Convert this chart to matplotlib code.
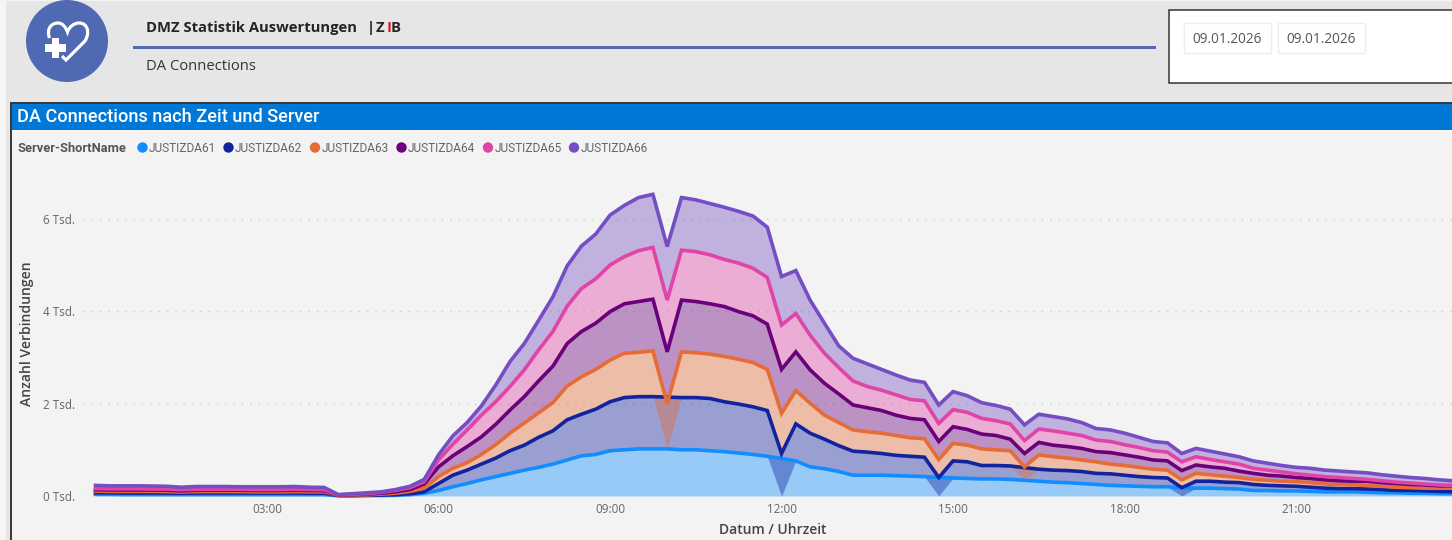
import numpy as np
import matplotlib
matplotlib.use("Agg")
import matplotlib.pyplot as plt
from matplotlib.patches import Rectangle, Circle, PathPatch
from matplotlib.path import Path

N = None
# stacked upper edge of every server (thousands), one value per 15 minutes from 00:00.
# None = server has no reading at that time.
server_names = ["JUSTIZDA61", "JUSTIZDA62", "JUSTIZDA63", "JUSTIZDA64", "JUSTIZDA65", "JUSTIZDA66"]
top_61 = [.035,.035,.03,.03,.03,.03,.03,.03,.03,.03,.03,.03,.03,.03,.03,.03,.03,.005,.005,.01,.01,.015,.03,.06,
          .12,.20,.27,.35,.42,.49,.56,.62,.69,.78,.87,.90,.98,1.00,1.02,1.02,1.02,1.00,1.00,.98,.96,.93,.90,.86,
          N,.76,.63,.59,.53,.45,.45,.45,.44,.43,.42,N,.39,.38,.37,.37,.36,.34,.32,.30,.29,.27,.25,.23,
          .22,.21,.20,.20,N,.17,.17,.16,.15,.12,.12,.11,.11,.10,.09,.09,.09,.08,.07,.07,.06,.06,.05,.05]
top_62 = [.07,.07,.065,.065,.065,.065,.06,.065,.065,.065,.065,.065,.065,.065,.065,.06,.06,.01,.01,.015,.02,.03,.05,.09,
          .27,.45,.56,.69,.82,.98,1.10,1.27,1.41,1.65,1.77,1.88,2.04,2.13,2.15,2.15,N,2.13,2.13,2.11,2.04,1.99,1.93,1.85,
          .92,1.56,1.36,1.23,1.09,.97,.95,.92,.88,.86,.84,.40,.76,.74,.66,.66,.65,N,.58,.56,.55,.53,.49,.48,
          .45,.42,.40,.39,.18,.32,.32,.30,.29,.25,.23,.22,.21,.19,.17,.16,.16,.15,.14,.12,.12,.11,.10,.09]
top_63 = [.105,.10,.10,.10,.10,.095,.085,.095,.095,.095,.095,.09,.09,.09,.095,.09,.09,.015,.02,.025,.04,.06,.10,.17,
          .42,.60,.72,.90,1.11,1.36,1.58,1.80,2.02,2.38,2.58,2.74,2.94,3.09,3.11,3.14,2.00,3.12,3.10,3.07,3.02,2.96,2.89,2.74,
          1.79,2.28,2.01,1.75,1.59,1.43,1.39,1.36,1.31,1.26,1.24,.79,1.14,1.10,1.02,1.00,.98,.63,.89,.85,.82,.78,.74,.69,
          .66,.62,.58,.56,.35,.49,.46,.43,.40,.36,.34,.32,.31,.29,.26,.25,.24,.23,.21,.19,.18,.17,.17,.17]
top_64 = [.135,.13,.13,.13,.13,.125,.11,.125,.125,.125,.125,.12,.12,.12,.125,.12,.115,.02,.03,.04,.06,.09,.14,.26,
          .63,.87,1.07,1.28,1.55,1.86,2.15,2.49,2.81,3.30,3.56,3.74,3.99,4.16,4.21,4.26,3.12,4.24,4.21,4.16,4.10,3.99,3.90,3.72,
          2.74,3.12,2.73,2.44,2.21,1.97,1.91,1.85,1.75,1.68,1.65,1.18,1.50,1.44,1.34,1.31,1.23,.92,1.16,1.10,1.07,1.03,.96,.94,
          .89,.84,.78,.76,.55,.67,.63,.60,.54,.49,.45,.43,.40,.38,.35,.33,.32,.32,.29,.27,.25,.24,.22,.22]
top_65 = [.16,.155,.155,.155,.15,.15,.135,.145,.145,.145,.145,.14,.14,.14,.145,.14,.135,.025,.04,.05,.08,.12,.18,.31,
          .78,1.12,1.43,1.75,2.04,2.37,2.73,3.16,3.56,4.11,4.49,4.70,5.00,5.18,5.31,5.38,4.24,5.32,5.29,5.22,5.12,5.04,4.93,4.73,
          3.70,3.95,3.48,3.09,2.78,2.49,2.37,2.29,2.19,2.09,2.06,1.57,1.87,1.81,1.68,1.63,1.56,1.20,1.45,1.41,1.36,1.31,1.21,1.18,
          1.11,1.05,.98,.95,.74,.85,.79,.74,.69,.60,.56,.52,.48,.45,.42,.40,.38,.36,.33,.30,.28,.26,.24,.23]
top_66 = [.23,.22,.22,.22,.215,.21,.19,.205,.205,.205,.20,.20,.20,.20,.205,.19,.185,.03,.05,.07,.09,.14,.21,.36,
          .89,1.30,1.59,1.95,2.40,2.91,3.30,3.80,4.31,4.98,5.41,5.67,6.08,6.29,6.46,6.53,5.40,6.46,6.41,6.33,6.25,6.16,6.06,5.82,
          4.75,4.88,4.24,3.74,3.25,2.98,2.86,2.74,2.62,2.51,2.46,1.97,2.26,2.17,2.02,1.96,1.88,1.54,1.77,1.72,1.67,1.59,1.46,1.43,
          1.36,1.27,1.18,1.15,.92,1.03,.97,.91,.85,.76,.71,.66,.62,.60,.56,.54,.52,.50,.46,.43,.40,.38,.35,.33]
quarter_step = 0.25
x_ticks = [3, 6, 9, 12, 15, 18, 21]
x_labels = ["03:00", "06:00", "09:00", "12:00", "15:00", "18:00", "21:00"]
y_ticks = [0, 2, 4, 6]
y_labels = ["0 Tsd.", "2 Tsd.", "4 Tsd.", "6 Tsd."]
colors = ["#118DFF", "#12239E", "#E66C37", "#6B007B", "#E044A7", "#744EC2"]

W, H = 1452, 540
fig = plt.figure(figsize=(W / 100, H / 100), dpi=100, facecolor="#f2f2f2")
plt.rcParams["font.family"] = ["Open Sans", "DejaVu Sans"]
narrow = ["Liberation Sans Narrow", "Roboto", "DejaVu Sans"]

# page chrome, in pixel coordinates
bg = fig.add_axes([0, 0, 1, 1], zorder=0)
bg.set_xlim(0, W); bg.set_ylim(H, 0); bg.axis("off")
def rect(x0, y0, x1, y1, fc, ec="none", lw=0, z=1):
    bg.add_patch(Rectangle((x0, y0), x1 - x0, y1 - y0, fc=fc, ec=ec, lw=lw, zorder=z))
rect(0, 0, W, H, "#f5f5f5")
rect(6, 1, W, 102, "#e6e6e6")
rect(6, 102, 11, H, "#e6e6e6")
rect(11, 130, W, H, "#f3f3f3")
rect(10, 102, W, 103.5, "#3a3a3a", z=3)
rect(10, 102, 11.5, H, "#3a3a3a", z=3)
rect(11, 103, W, 130, "#0078D7", z=2)
# logo
bg.add_patch(Circle((67, 41), 41, fc="#4F69B3", ec="none", zorder=2))
C = Path.CURVE4
heart = Path([(49.5, 38), (46, 28), (52, 23), (58, 23), (63, 23), (66, 28), (67.5, 32),
              (69, 27), (74, 23), (79, 23), (88, 23), (90, 33), (85, 41), (66, 60), (62, 56)],
             [Path.MOVETO, C, C, C, C, C, C, C, C, C, C, C, C, Path.LINETO, Path.LINETO])
bg.add_patch(PathPatch(heart, fc="none", ec="white", lw=2.3, zorder=3))
rect(51.7, 38, 59.3, 58, "white", z=3)
rect(45, 43.5, 66, 52, "white", z=3)
# header
rect(133, 45.5, 1156, 48.5, "#4F69B3", z=2)
bold = dict(fontsize=10.65, fontweight="bold", color="#252423", va="center", ha="left", zorder=4)
bg.text(146, 28, "DMZ Statistik Auswertungen", **bold)
bg.text(367, 28, "|", **bold)
bg.text(376, 28, "Z", **bold)
bg.text(386.5, 28, "I", **{**bold, "color": "#E81123"})
bg.text(391, 28, "B", **bold)
bg.text(146, 67, "DA Connections", fontsize=10.6, color="#333333", va="center", ha="left", zorder=4)
# date filter
rect(1168.5, 9.5, W + 3, 83, "white", ec="#333333", lw=1.1, z=2)
for x0 in (1184, 1278):
    rect(x0, 22.5, x0 + 87, 52.5, "white", ec="#eeeeee", lw=1, z=3)
    bg.text(x0 + 43.5, 39.5, "09.01.2026", fontsize=9.8, color="#555555", ha="center", va="center", zorder=4)
bg.text(17, 116.5, "DA Connections nach Zeit und Server", fontsize=13.1, color="white",
        family=["Roboto", "DejaVu Sans"], fontweight="medium", va="center", ha="left", zorder=4)
# legend
bg.text(17, 148.5, "Server-ShortName", fontsize=9.3, fontweight="bold", color="#555555", va="center", ha="left",
        family=["Roboto", "DejaVu Sans"], zorder=4)
legend_x = [142.5, 228.5, 315, 401.5, 488, 574]
for lx, name, c in zip(legend_x, server_names, colors):
    bg.add_patch(Circle((lx, 147.5), 5.2, fc=c, ec="none", zorder=4))
    bg.text(lx + 6.5, 148.5, name, fontsize=8.6, color="#666666", va="center", ha="left", family=narrow, zorder=4)

# chart axes: 57.17 px per hour with 00:00 at x=95.5, 46.2 px per thousand with 0 at y=496
ax_left, ax_top, ax_bottom = 83, 160, 496
ax = fig.add_axes([ax_left / W, 1 - ax_bottom / H, (W - ax_left) / W, (ax_bottom - ax_top) / H], zorder=1)
ax.patch.set_alpha(0)
ax.set_xlim((ax_left - 95.5) / 57.17, (W - 95.5) / 57.17)
ax.set_ylim(0, (ax_bottom - ax_top) / 46.2)
for s in ax.spines.values():
    s.set_visible(False)
ax.set_xticks(x_ticks, x_labels, fontsize=8.4, color="#666666")
ax.set_yticks(y_ticks, y_labels, fontsize=8.4, color="#666666")
ax.tick_params(axis="x", length=0, pad=5)
ax.tick_params(axis="y", length=0, pad=6)
ax.set_axisbelow(True)
ax.grid(axis="y", color="#cfcfcf", lw=1, linestyle=(0, (1, 5)))
ax.grid(axis="x", visible=False)
bg.text(27, 334, "Anzahl Verbindungen", rotation=90, fontsize=10.1, fontweight="semibold", color="#444444",
        ha="center", va="center", zorder=4)
bg.text(773, 530, "Datum / Uhrzeit", fontsize=10, fontweight="semibold", color="#444444",
        ha="center", va="center", zorder=4)

tops = [np.array(t, dtype=float) for t in (top_61, top_62, top_63, top_64, top_65, top_66)]
hours = np.arange(len(top_61)) * quarter_step
floor = np.zeros(len(hours))
for k, (t, c) in enumerate(zip(tops, colors)):
    ok = ~np.isnan(t)
    # the area reaches down to whatever server is stacked below it at each time
    ax.fill_between(hours[ok], floor[ok], t[ok], color=c, alpha=0.4, lw=0, zorder=2 + k * 0.1)
    floor = np.where(ok, t, floor)
for k, (t, c) in enumerate(zip(tops, colors)):
    ok = ~np.isnan(t)
    ax.plot(hours[ok], t[ok], color=c, lw=2.6, solid_joinstyle="miter", clip_on=False, zorder=3 + k * 0.1)

fig.savefig("out.png", dpi=100, facecolor=fig.get_facecolor())
